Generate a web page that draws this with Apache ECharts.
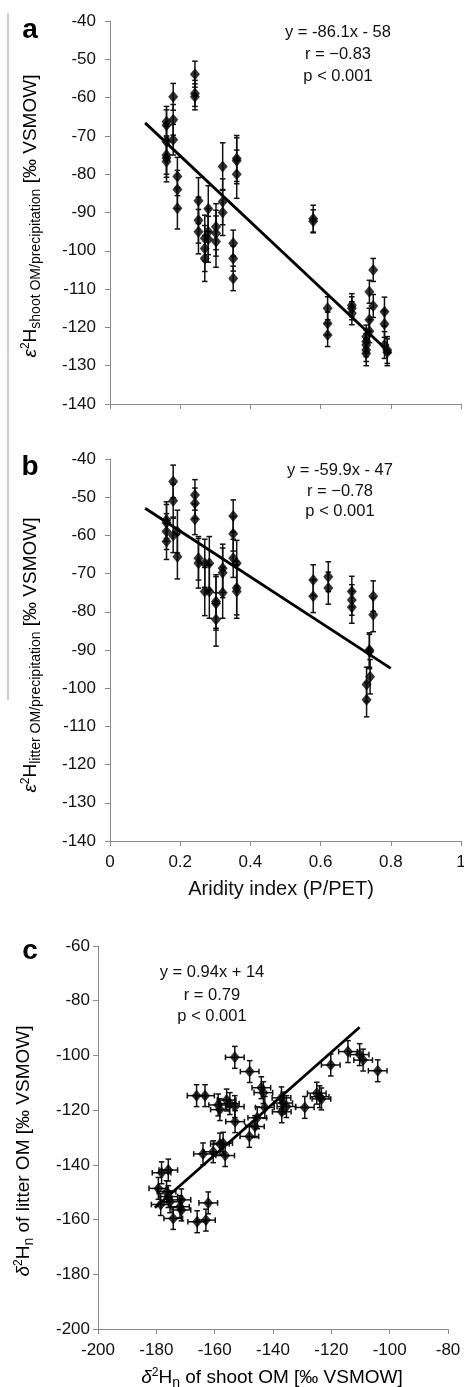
<!DOCTYPE html>
<html>
<head>
<meta charset="utf-8">
<script src="https://cdn.jsdelivr.net/npm/echarts@6/dist/echarts.min.js"></script>
<style>
html,body{margin:0;padding:0;background:#fff;}
#c{width:464px;height:1387px;}
</style>
</head>
<body>
<div id="c"></div>
<script>
// ---- Panel a: aridity index vs eps2H shoot OM/precipitation ----
var aX   = [0.161,0.161,0.161,0.161,0.161,0.161, 0.18,0.18,0.18, 0.192,0.192,0.192, 0.242,0.242,0.242, 0.252,0.252,0.252, 0.27,0.27,0.27, 0.28,0.28,0.28, 0.302,0.302,0.302, 0.321,0.321,0.321, 0.351,0.351,0.351, 0.361,0.361,0.361, 0.579,0.579, 0.62,0.62,0.62, 0.689,0.689,0.689, 0.73,0.73,0.73,0.73,0.73, 0.739,0.739,0.739, 0.75,0.75, 0.782,0.782,0.782, 0.79,0.79];
var aY   = [-66.3,-67.2,-71.5,-75,-75.8,-76.7, -59.8,-65.8,-71, -80.6,-84,-88.9, -53.9,-58.9,-59.8, -86.9,-92,-95, -96.7,-99.4,-102, -89,-95,-97, -93.7,-95.4,-97.6, -78,-87.2,-90, -98,-102,-107.2, -75.9,-76.5,-80, -91.6,-92.3, -115,-119,-122, -114.2,-115,-116.3, -122.4,-123.7,-124.6,-125.9,-126.8, -110.7,-118,-121, -105,-114.4, -115.9,-119.1,-124.6, -125.9,-126.5];
var aErr = [4,4,4,5,5,5.3, 3.5,4,4, 5,5,5.4, 3.4,3.4,3.4, 6,6,5.8, 6,6,6, 6,6,6, 6,6,6.7, 6.2,6,6, 3.4,3.3,3.2, 6,6,6.3, 3.5,3, 3,3,3, 3,3,3, 3,3,3,3,3.2, 3,3,3, 3,3, 3.8,3.5,3.5, 3.5,3.5];
var aFit = [[0.1,-66.6],[0.8,-126.9]];
var aText = ['y = -86.1x - 58','r = \u22120.83','p < 0.001'];

// ---- Panel b: aridity index vs eps2H litter OM/precipitation ----
var bX   = [0.161,0.161,0.161,0.161, 0.18,0.18,0.18, 0.192,0.192, 0.242,0.242,0.242, 0.252,0.252, 0.27,0.27, 0.283,0.283, 0.302,0.302,0.302, 0.321,0.321,0.321, 0.351,0.351,0.351, 0.361,0.361,0.361, 0.579,0.579, 0.622,0.622, 0.689,0.689,0.689, 0.75,0.75, 0.739,0.739,0.741, 0.731,0.731];
var bY   = [-56,-56.7,-59,-61.6, -45.9,-50.9,-60, -59,-65.6, -49.4,-51.6,-55.8, -66,-67.3, -67.3,-74.7, -67.3,-74.7, -77.3,-77.8,-82, -68.6,-69.8,-75, -54.9,-59.6,-66, -67.3,-73.8,-74.7, -71.7,-75.9, -70.8,-73.8, -74.7,-76.9,-78.8, -75.9,-80.8, -90,-90.4,-97, -99,-103];
var bErr = [4.8,4.8,4.7,4.7, 4.3,4.3,4.5, 5.6,5.8, 4,4,4, 5.7,6.5, 6.3,6.3, 7,7, 7,7,7, 6.3,6.5,6.7, 4.2,4.5,5, 6,7,7, 4,4.3, 3.9,4.2, 4,4,4.2, 4,4.4, 4.5,4.5,4.5, 4.5,4.5];
var bFit = [[0.1,-52.9],[0.8,-94.8]];
var bText = ['y = -59.9x - 47','r = \u22120.78','p < 0.001'];

// ---- Panel c: delta2H shoot OM vs delta2H litter OM ----
var cX = [-153.1,-148,-144,-143.3,-166.2,-163.3,-158.8,-158.2,-155.9,-154.8,-153.1,-153,-142.8,-145.4,-146.2,-148.1,-137.1,-136.5,-137,-135.4,-129.1,-125,-124,-123.4,-120.2,-114.3,-110.3,-109.1,-104.1,-164,-160.5,-158.2,-157.1,-156.4,-178.2,-175.9,-179.3,-176.5,-175.9,-175.3,-171.4,-171.9,-171.4,-162.2,-174.2,-166,-163,-178.5];
var cY = [-100.7,-105.9,-111.8,-113.6,-114.7,-114.7,-118.1,-119.8,-116.3,-117.6,-118.7,-124.2,-119,-122.8,-126,-129.6,-115.5,-117.4,-120.6,-118.7,-119,-113.8,-115.1,-115.9,-103.5,-98.6,-99.7,-101.7,-105.6,-136,-135.2,-132.4,-132.1,-136.6,-142.9,-141.9,-148.6,-149.8,-151.6,-153.5,-152.8,-155.3,-156.5,-153.9,-159.6,-160.8,-160.2,-154.5];
var cXErr = 3.2;
var cYErr = 4;
var cFit = [[-180.5,-155.7],[-110.3,-89.7]];
var cText = ['y = 0.94x + 14','r = 0.79','p < 0.001'];

var FONT = '"Liberation Sans", Arial, sans-serif';
var AXC = '#8a8a8a';

function zip(xs, ys){ return xs.map(function(x,i){ return [x, ys[i]]; }); }
function zip3(xs, ys, es){ return xs.map(function(x,i){ return [x, ys[i], es[i]]; }); }

function vErr(params, api){
  var x = api.value(0), y = api.value(1), e = api.value(2);
  var t = api.coord([x, y + e]), b = api.coord([x, y - e]);
  var w = 2.8, st = {stroke:'#111', lineWidth:1.5};
  return {type:'group', children:[
    {type:'line', shape:{x1:t[0],y1:t[1],x2:b[0],y2:b[1]}, style:st},
    {type:'line', shape:{x1:t[0]-w,y1:t[1],x2:t[0]+w,y2:t[1]}, style:st},
    {type:'line', shape:{x1:b[0]-w,y1:b[1],x2:b[0]+w,y2:b[1]}, style:st}
  ]};
}
function xyErr(params, api){
  var x = api.value(0), y = api.value(1);
  var t = api.coord([x, y + cYErr]), b = api.coord([x, y - cYErr]);
  var l = api.coord([x - cXErr, y]), r = api.coord([x + cXErr, y]);
  var w = 2.8, st = {stroke:'#111', lineWidth:1.5};
  return {type:'group', children:[
    {type:'line', shape:{x1:t[0],y1:t[1],x2:b[0],y2:b[1]}, style:st},
    {type:'line', shape:{x1:t[0]-w,y1:t[1],x2:t[0]+w,y2:t[1]}, style:st},
    {type:'line', shape:{x1:b[0]-w,y1:b[1],x2:b[0]+w,y2:b[1]}, style:st},
    {type:'line', shape:{x1:l[0],y1:l[1],x2:r[0],y2:r[1]}, style:st},
    {type:'line', shape:{x1:l[0],y1:l[1]-w,x2:l[0],y2:l[1]+w}, style:st},
    {type:'line', shape:{x1:r[0],y1:r[1]-w,x2:r[0],y2:r[1]+w}, style:st}
  ]};
}

function axisBase(extra){
  var o = {
    type:'value',
    axisLine:{show:true, onZero:false, lineStyle:{color:AXC, width:1}},
    axisTick:{show:true, inside:false, length:5, lineStyle:{color:AXC, width:1}},
    axisLabel:{show:true, color:'#111', fontSize:17, fontFamily:FONT},
    splitLine:{show:false}
  };
  for (var k in extra){
    if (k === 'axisLabel'){ for (var j in extra[k]) o.axisLabel[j] = extra[k][j]; }
    else o[k] = extra[k];
  }
  return o;
}

var sym = {type:'scatter', symbol:'diamond', symbolSize:[10,12], itemStyle:{color:'#000'}, z:5};
function scatter(xi, data){ var s = {}; for (var k in sym) s[k]=sym[k]; s.xAxisIndex=xi; s.yAxisIndex=xi; s.data=data; return s; }
function fit(xi, data){ return {type:'line', xAxisIndex:xi, yAxisIndex:xi, data:data, symbol:'none', lineStyle:{color:'#000', width:2.8}, z:4}; }

function annot(lines, cx, ys){
  return lines.map(function(t,i){
    return {type:'text', x:cx, y:ys[i], style:{text:t, align:'center', verticalAlign:'middle', font:'16.5px '+FONT, fill:'#111'}};
  });
}

var richY = {
  m:{fontSize:19, fontFamily:FONT, color:'#111', lineHeight:26, verticalAlign:'middle'},
  e:{fontSize:19, fontFamily:FONT, fontStyle:'italic', color:'#111', lineHeight:26, verticalAlign:'middle'},
  sup:{fontSize:12, fontFamily:FONT, color:'#111', lineHeight:26, verticalAlign:'top', padding:[2,0,0,0]},
  sub:{fontSize:14, fontFamily:FONT, color:'#111', lineHeight:26, verticalAlign:'bottom', padding:[0,0,1,0]}
};
function yTitle(txt, cx, cy){
  return {type:'text', x:cx, y:cy, rotation:Math.PI/2, style:{text:txt, rich:richY, align:'center', verticalAlign:'middle'}};
}

var chart = echarts.init(document.getElementById('c'), null, {renderer:'canvas'});
var option = {
  backgroundColor:'#fff',
  animation:false,
  grid:[
    {left:110, top:21, width:351, height:383, outerBoundsMode:'none', containLabel:false},
    {left:110, top:459, width:351, height:382, outerBoundsMode:'none', containLabel:false},
    {left:98, top:946, width:350, height:383, outerBoundsMode:'none', containLabel:false}
  ],
  xAxis:[
    axisBase({gridIndex:0, min:0, max:1, interval:0.2, axisLabel:{show:false}}),
    axisBase({gridIndex:1, min:0, max:1, interval:0.2, axisLabel:{margin:13}}),
    axisBase({gridIndex:2, min:-200, max:-80, interval:20, axisLabel:{margin:13}})
  ],
  yAxis:[
    axisBase({gridIndex:0, min:-140, max:-40, interval:10, axisLabel:{margin:14}}),
    axisBase({gridIndex:1, min:-140, max:-40, interval:10, axisLabel:{margin:14}}),
    axisBase({gridIndex:2, min:-200, max:-60, interval:20, axisLabel:{margin:8}})
  ],
  series:[
    {type:'custom', xAxisIndex:0, yAxisIndex:0, data:zip3(aX,aY,aErr), renderItem:vErr, z:3},
    fit(0, aFit),
    scatter(0, zip(aX,aY)),
    {type:'custom', xAxisIndex:1, yAxisIndex:1, data:zip3(bX,bY,bErr), renderItem:vErr, z:3},
    fit(1, bFit),
    scatter(1, zip(bX,bY)),
    {type:'custom', xAxisIndex:2, yAxisIndex:2, data:zip(cX,cY), renderItem:xyErr, z:3},
    fit(2, cFit),
    scatter(2, zip(cX,cY))
  ],
  graphic:[
    {type:'line', shape:{x1:8, y1:13, x2:8, y2:700}, style:{stroke:'#999', lineWidth:1}},
    {type:'text', x:30, y:30, style:{text:'a', align:'center', verticalAlign:'middle', font:'bold 28px '+FONT, fill:'#000'}},
    {type:'text', x:30, y:467, style:{text:'b', align:'center', verticalAlign:'middle', font:'bold 28px '+FONT, fill:'#000'}},
    {type:'text', x:30, y:951, style:{text:'c', align:'center', verticalAlign:'middle', font:'bold 28px '+FONT, fill:'#000'}},
    yTitle('{e|ε}{sup|2}{m|H}{sub|shoot OM/precipitation}{m| [‰ VSMOW]}', 31, 216),
    yTitle('{e|ε}{sup|2}{m|H}{sub|litter OM/precipitation}{m| [‰ VSMOW]}', 31, 655),
    yTitle('{e|δ}{sup|2}{m|H}{sub|n}{m| of litter OM [‰ VSMOW]}', 24, 1151),
    {type:'text', x:281, y:889, style:{text:'Aridity index (P/PET)', align:'center', verticalAlign:'middle', font:'20px '+FONT, fill:'#111'}},
    {type:'text', x:272, y:1378, style:{
      text:'{e|δ}{sup|2}{m|H}{sub|n}{m| of shoot OM [‰ VSMOW]}', rich:richY, align:'center', verticalAlign:'middle'}}
  ].concat(annot(aText, 338, [32, 54, 76.5]))
   .concat(annot(bText, 340, [470, 491.5, 511.5]))
   .concat(annot(cText, 212, [972.5, 995, 1016.5]))
};
chart.setOption(option);
</script>
</body>
</html>
